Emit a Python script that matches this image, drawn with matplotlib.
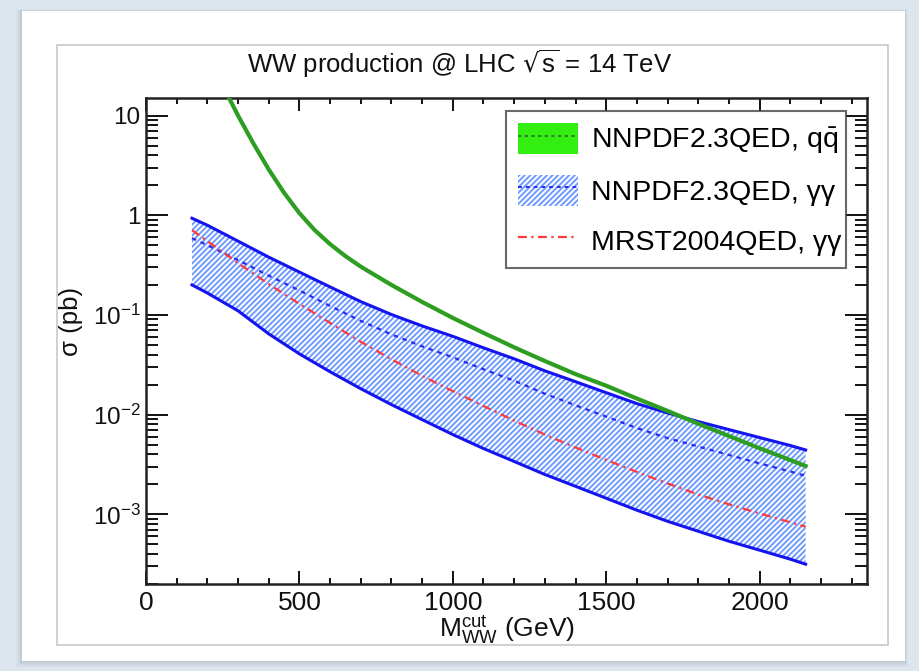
import matplotlib
matplotlib.use("Agg")
import matplotlib.pyplot as plt
from matplotlib.patches import Rectangle, Patch
from matplotlib.lines import Line2D
from matplotlib.ticker import FixedLocator, LogLocator, NullFormatter, FixedFormatter, MultipleLocator

plt.rcParams['font.family'] = ['Liberation Sans', 'DejaVu Sans']
plt.rcParams['hatch.linewidth'] = 1.4

# ---- data ----
m_cut = [150, 200, 300, 400, 500, 600, 700, 800, 900, 1000, 1100, 1200, 1300,
         1400, 1500, 1600, 1700, 1800, 1900, 2000, 2100, 2150]
nn_aa_up = [0.933, 0.794, 0.550, 0.380, 0.269, 0.191, 0.136, 0.101, 0.0776, 0.0610,
            0.0468, 0.0363, 0.0275, 0.0214, 0.0166, 0.0129, 0.0104, 0.00851, 0.00708,
            0.00589, 0.00490, 0.00442]
nn_aa_lo = [0.200, 0.166, 0.110, 0.0646, 0.0407, 0.0269, 0.0182, 0.0126, 0.00891, 0.00631,
            0.00457, 0.00339, 0.00251, 0.00191, 0.00145, 0.00110, 0.000851, 0.000676,
            0.000537, 0.000437, 0.000355, 0.000316]
nn_aa_cv = [0.589, 0.501, 0.355, 0.248, 0.176, 0.123, 0.0871, 0.0638, 0.0484, 0.0376,
            0.0285, 0.0219, 0.0162, 0.0124, 0.00955, 0.00733, 0.00582, 0.00479, 0.00394,
            0.00324, 0.00269, 0.00243]
mrst_aa = [0.708, 0.550, 0.331, 0.204, 0.129, 0.0832, 0.0537, 0.0359, 0.0245, 0.0172,
           0.0122, 0.00871, 0.00631, 0.00468, 0.00351, 0.00266, 0.00204, 0.00158,
           0.00126, 0.00102, 0.000832, 0.000750]
m_cut_qq = [250, 300, 350, 400, 450, 500, 550, 600, 650, 700, 800, 900, 1000, 1100,
            1200, 1300, 1400, 1500, 1600, 1700, 1800, 1900, 2000, 2100, 2150]
nn_qq = [20.0, 10.0, 5.25, 2.88, 1.68, 1.05, 0.708, 0.513, 0.389, 0.305, 0.200, 0.135,
         0.0933, 0.0661, 0.0473, 0.0345, 0.0255, 0.0195, 0.0145, 0.0109, 0.0081,
         0.0061, 0.00460, 0.00350, 0.00305]

x_ticks = [0, 500, 1000, 1500, 2000]
y_ticks = [1e-3, 1e-2, 1e-1, 1, 10]
y_tick_labels = [r'$\mathregular{10^{-3}}$', r'$\mathregular{10^{-2}}$',
                 r'$\mathregular{10^{-1}}$', '1', '10']
labels = [r'NNPDF2.3QED, $\mathregular{q\bar{q}}$', 'NNPDF2.3QED, γγ', 'MRST2004QED, γγ']

# ---- figure & background ----
W, H = 920, 671
fig = plt.figure(figsize=(W / 100, H / 100), dpi=100)
fig.patch.set_facecolor('#dde5ee')

def frect(x0, y0, x1, y1, z, **kw):
    fig.patches.append(Rectangle((x0 / W, 1 - y1 / H), (x1 - x0) / W, (y1 - y0) / H,
                                 transform=fig.transFigure, figure=fig, zorder=z, **kw))

# shadow
for i, a in enumerate([0.05, 0.06, 0.08, 0.10]):
    d = 6 - i * 1.5
    frect(22 - d, 11 - d * 0.3, 905 + d * 0.5, 661 + d, -20 + i,
          facecolor='#7a8590', edgecolor='none', alpha=a)
frect(22, 11, 905, 661, -10, facecolor='white', edgecolor='none')
frect(57, 45, 888, 645, -9, facecolor='none', edgecolor='#c8c8c8', linewidth=1.2)

ax = fig.add_axes([146 / W, 1 - 584 / H, 721 / W, 486 / H])
ax.set_zorder(1)
ax.set_facecolor('white')
ax.set_yscale('log')
ax.set_xlim(0, 2350)
ax.set_ylim(2e-4, 15)

# blue hatched band
ax.fill_between(m_cut, nn_aa_lo, nn_aa_up, facecolor='none', edgecolor='#6e9bff',
                hatch='//////', linewidth=0, zorder=1)
ax.plot(m_cut, nn_aa_up, color='#1414f0', lw=2.2, zorder=3)
ax.plot(m_cut, nn_aa_lo, color='#1414f0', lw=2.2, zorder=3)
ax.plot(m_cut, nn_aa_cv, color='#2a2af5', lw=1.6, ls=(0, (2.0, 2.2)), zorder=3)
ax.plot(m_cut, mrst_aa, color='#ff3a3a', lw=1.6, ls=(0, (4, 2, 1, 2)), zorder=3)
ax.plot(m_cut_qq, nn_qq, color='#2e9e22', lw=3.0, zorder=4)

# ticks
ax.xaxis.set_major_locator(FixedLocator(x_ticks))
ax.xaxis.set_minor_locator(MultipleLocator(100))
ax.yaxis.set_major_locator(FixedLocator(y_ticks))
ax.yaxis.set_major_formatter(FixedFormatter(y_tick_labels))
ax.yaxis.set_minor_locator(LogLocator(base=10, subs=range(2, 10), numticks=20))
ax.yaxis.set_minor_formatter(NullFormatter())
ax.tick_params(which='both', direction='in', top=True, right=True, colors='#111111',
               width=1.4)
ax.xaxis.set_tick_params(which='major', length=9.5, pad=5, labelsize=19)
ax.xaxis.set_tick_params(which='minor', length=4.5)
ax.yaxis.set_tick_params(which='major', length=16, pad=4, labelsize=17.5)
ax.yaxis.set_tick_params(which='minor', length=8.5)
for s in ax.spines.values():
    s.set_linewidth(1.8)
    s.set_color('#222222')

# legend
h_qq = (Patch(facecolor='#33ee11', edgecolor='none'),
        Line2D([], [], color='#2f6f2f', lw=1.2, ls=(0, (2, 2))))
h_aa = (Patch(facecolor='none', edgecolor='#6e9bff', hatch='//////', linewidth=0),
        Line2D([], [], color='#2a2af5', lw=1.4, ls=(0, (2, 2))))
h_mr = Line2D([], [], color='#ff3a3a', lw=1.6, ls=(0, (4, 2, 1, 2)))
leg = ax.legend([h_qq, h_aa, h_mr], labels, loc='upper left',
                bbox_to_anchor=(0.500, 0.973, 0.471, 0.0), mode='expand',
                fontsize=20.5, frameon=True, fancybox=False, handlelength=2.1,
                handleheight=1.3, handletextpad=0.45, labelspacing=0.66,
                borderpad=0.42, borderaxespad=0.0)
leg.get_frame().set_edgecolor('#444444')
leg.get_frame().set_linewidth(1.5)

# titles
fig.text(0.5, 1 - 64 / H, r'WW production @ LHC $\mathregular{\sqrt{s}}$ = 14 TeV',
         ha='center', va='center', fontsize=18.5, color='#111111', zorder=5)
ax.set_xlabel(r'$\mathregular{M_{WW}^{cut}}$ (GeV)', fontsize=19, color='#111111',
              labelpad=-1)
ax.set_ylabel(r'σ (pb)', fontsize=18.5, color='#111111')
ax.yaxis.set_label_coords(-0.088, 0.541)

fig.savefig('out.png', dpi=100, facecolor=fig.get_facecolor())
